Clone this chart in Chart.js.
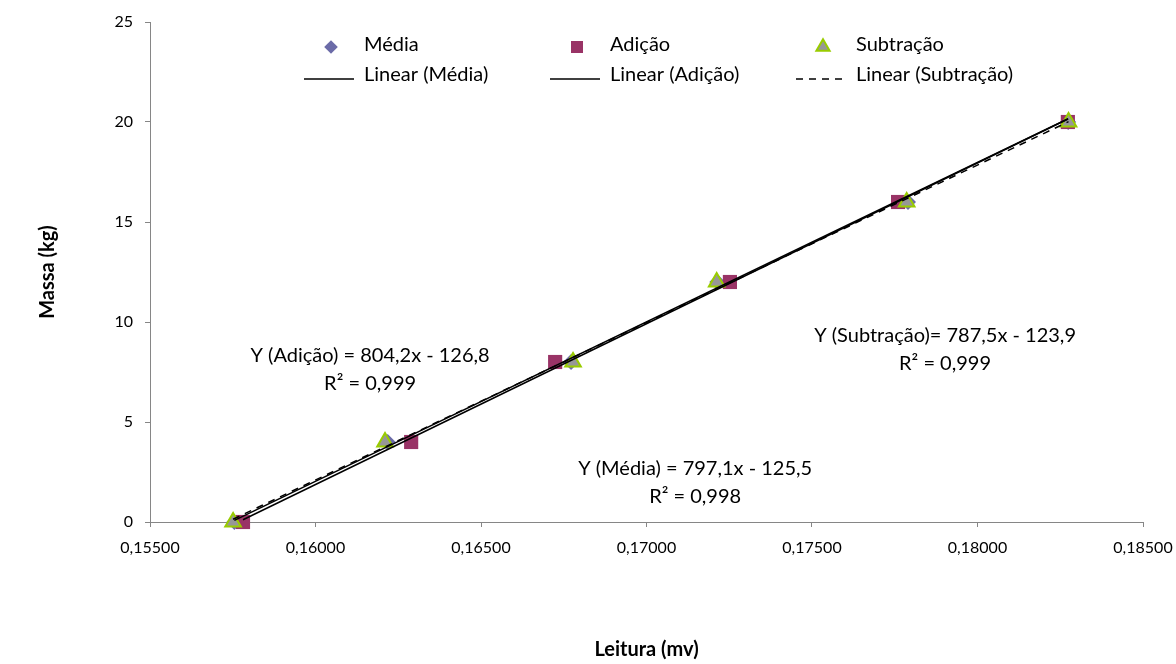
<!DOCTYPE html>
<html>
<head>
<meta charset="utf-8">
<title>Calibração - Massa x Leitura</title>
<script src="https://cdn.jsdelivr.net/npm/chart.js@4.4.1/dist/chart.umd.min.js"></script>
<style>
  html, body { margin: 0; padding: 0; background: #fff; }
</style>
</head>
<body>
<canvas id="calibracao" width="1176" height="664"></canvas>
<script>
    "use strict";

    // massa aplicada (kg) em cada ponto
    const massa = [0, 4, 8, 12, 16, 20];

    // leituras (mv) para cada massa
    const leituraMedia = [0.15755, 0.16218, 0.16772, 0.17214, 0.17790, 0.18274];
    const leituraAdicao = [0.15781, 0.16289, 0.16724, 0.17252, 0.17760, 0.18273];
    const leituraSubtracao = [0.15751, 0.16210, 0.16778, 0.17212, 0.17786, 0.18275];

    // ajustes lineares [inclinação, intercepto] e R²
    const ajusteMedia = [797.1, -125.5];
    const ajusteAdicao = [804.2, -126.8];
    const ajusteSubtracao = [787.5, -123.9];
    const r2 = [0.998, 0.999, 0.999];

    const nomes = ['Média', 'Adição', 'Subtração'];
    const prefixoEq = ['Y (Média) = ', 'Y (Adição) = ', 'Y (Subtração)= '];

    // eixos
    const xTicks = [0.155, 0.16, 0.165, 0.17, 0.175, 0.18, 0.185];
    const yTicks = [0, 5, 10, 15, 20, 25];

    const virgula = (v, d) => v.toFixed(d).replace('.', ',');

    function pontos(xs) {
        return xs.map((x, i) => ({ x: x, y: massa[i] }));
    }

    // reta de tendência entre a menor e a maior leitura
    function reta(xs, ajuste) {
        const x0 = Math.min(...xs), x1 = Math.max(...xs);
        return [
            { x: x0, y: ajuste[0] * x0 + ajuste[1] },
            { x: x1, y: ajuste[0] * x1 + ajuste[1] }
        ];
    }

    function equacao(i, ajuste) {
        return prefixoEq[i] + virgula(ajuste[0], 1) + 'x - ' + virgula(Math.abs(ajuste[1]), 1);
    }

    Chart.defaults.font.family = 'Lato, "Open Sans", sans-serif';
    Chart.defaults.color = '#000';

    // legenda em grade: marcadores na primeira linha, retas na segunda
    const legendaGrade = {
        id: 'legendaGrade',
        afterDraw(chart, args, opts) {
            const ctx = chart.ctx;
            ctx.save();
            ctx.font = opts.fontSize + 'px ' + Chart.defaults.font.family;
            ctx.textBaseline = 'middle';
            chart.data.datasets.forEach((ds, i) => {
                const col = i % 3, row = Math.floor(i / 3);
                const tx = opts.x0 + col * opts.colGap;
                const ty = opts.rows[row];
                if (ds.showLine) {
                    ctx.beginPath();
                    ctx.setLineDash(ds.borderDash || []);
                    ctx.lineWidth = ds.borderWidth;
                    ctx.strokeStyle = ds.borderColor;
                    ctx.moveTo(tx - 60, ty + 4);
                    ctx.lineTo(tx - 10, ty + 4);
                    ctx.stroke();
                    ctx.setLineDash([]);
                } else {
                    ctx.fillStyle = ds.backgroundColor;
                    ctx.strokeStyle = ds.borderColor;
                    ctx.lineWidth = ds.borderWidth;
                    Chart.helpers.drawPoint(ctx, {
                        pointStyle: ds.pointStyle,
                        radius: ds.pointRadius * 0.85,
                        borderWidth: ds.borderWidth,
                        rotation: 0
                    }, tx - 33, ty + 2);
                }
                ctx.fillStyle = '#000';
                ctx.fillText(ds.label, tx, ty);
            });
            ctx.restore();
        }
    };

    // equações das retas e R², centradas num ponto do gráfico
    const equacoes = {
        id: 'equacoes',
        afterDraw(chart, args, opts) {
            const ctx = chart.ctx;
            const sx = chart.scales.x, sy = chart.scales.y;
            const ajustes = [ajusteMedia, ajusteAdicao, ajusteSubtracao];
            ctx.save();
            ctx.font = opts.fontSize + 'px ' + Chart.defaults.font.family;
            ctx.fillStyle = '#000';
            ctx.textAlign = 'center';
            ctx.textBaseline = 'middle';
            opts.ancoras.forEach((a, i) => {
                const px = sx.getPixelForValue(a.x);
                const py = sy.getPixelForValue(a.y);
                ctx.fillText(equacao(i, ajustes[i]), px, py - opts.linha / 2);
                ctx.fillText('R² = ' + virgula(r2[i], 3), px, py + opts.linha / 2);
            });
            ctx.restore();
        }
    };

    const cinza = '#868686';

    new Chart(document.getElementById('calibracao'), {
        type: 'scatter',
        data: {
            datasets: [{
                label: nomes[0],
                data: pontos(leituraMedia),
                pointStyle: 'rectRot',
                pointRadius: 8,
                backgroundColor: '#6B6BA8',
                borderColor: '#6B6BA8',
                borderWidth: 0,
                clip: false,
                order: 5
            }, {
                label: nomes[1],
                data: pontos(leituraAdicao),
                pointStyle: 'rect',
                pointRadius: 10,
                backgroundColor: '#993366',
                borderColor: '#993366',
                borderWidth: 0,
                clip: false,
                order: 4
            }, {
                label: nomes[2],
                data: pontos(leituraSubtracao),
                pointStyle: 'triangle',
                pointRadius: 9,
                backgroundColor: '#979797',
                borderColor: '#99CC00',
                borderWidth: 2,
                clip: false,
                order: 3
            }, {
                label: 'Linear (' + nomes[0] + ')',
                data: reta(leituraMedia, ajusteMedia),
                showLine: true,
                pointRadius: 0,
                borderColor: '#000',
                borderWidth: 1.5,
                order: 2
            }, {
                label: 'Linear (' + nomes[1] + ')',
                data: reta(leituraAdicao, ajusteAdicao),
                showLine: true,
                pointRadius: 0,
                borderColor: '#000',
                borderWidth: 1.5,
                order: 1
            }, {
                label: 'Linear (' + nomes[2] + ')',
                data: reta(leituraSubtracao, ajusteSubtracao),
                showLine: true,
                pointRadius: 0,
                borderColor: '#000',
                borderWidth: 1.5,
                borderDash: [7, 6],
                order: 0
            }]
        },
        options: {
            responsive: false,
            animation: false,
            layout: {
                padding: { left: 0, top: 22, right: 33, bottom: 0 }
            },
            scales: {
                x: {
                    type: 'linear',
                    min: xTicks[0],
                    max: xTicks[xTicks.length - 1],
                    afterBuildTicks: s => { s.ticks = xTicks.map(v => ({ value: v })); },
                    afterFit: s => { s.height = 142; s.paddingLeft = 0; s.paddingRight = 0; },
                    border: { color: cinza, width: 1 },
                    grid: { drawOnChartArea: false, color: cinza, tickLength: 5 },
                    ticks: {
                        padding: 11,
                        font: { size: 16 },
                        maxRotation: 0,
                        callback: v => virgula(v, 5)
                    },
                    title: {
                        display: true,
                        text: 'Leitura (mv)',
                        font: { size: 20, weight: 'bold' },
                        padding: { top: 0, bottom: 2 }
                    }
                },
                y: {
                    min: yTicks[0],
                    max: yTicks[yTicks.length - 1],
                    afterBuildTicks: s => { s.ticks = yTicks.map(v => ({ value: v })); },
                    afterFit: s => { s.width = 150; s.paddingTop = 0; s.paddingBottom = 0; },
                    border: { color: cinza, width: 1 },
                    grid: { drawOnChartArea: false, color: cinza, tickLength: 5 },
                    ticks: {
                        padding: 12,
                        font: { size: 16 }
                    },
                    title: {
                        display: true,
                        text: 'Massa (kg)',
                        font: { size: 20, weight: 'bold' },
                        padding: { top: 36, bottom: 0 }
                    }
                }
            },
            plugins: {
                legend: { display: false },
                tooltip: { enabled: false },
                legendaGrade: {
                    fontSize: 20,
                    x0: 364,
                    colGap: 246,
                    rows: [45, 75]
                },
                equacoes: {
                    fontSize: 20,
                    linha: 28,
                    ancoras: [
                        { x: 0.17147, y: 1.95 },
                        { x: 0.16165, y: 7.62 },
                        { x: 0.17902, y: 8.6 }
                    ]
                }
            }
        },
        plugins: [legendaGrade, equacoes]
    });
</script>
</body>
</html>
